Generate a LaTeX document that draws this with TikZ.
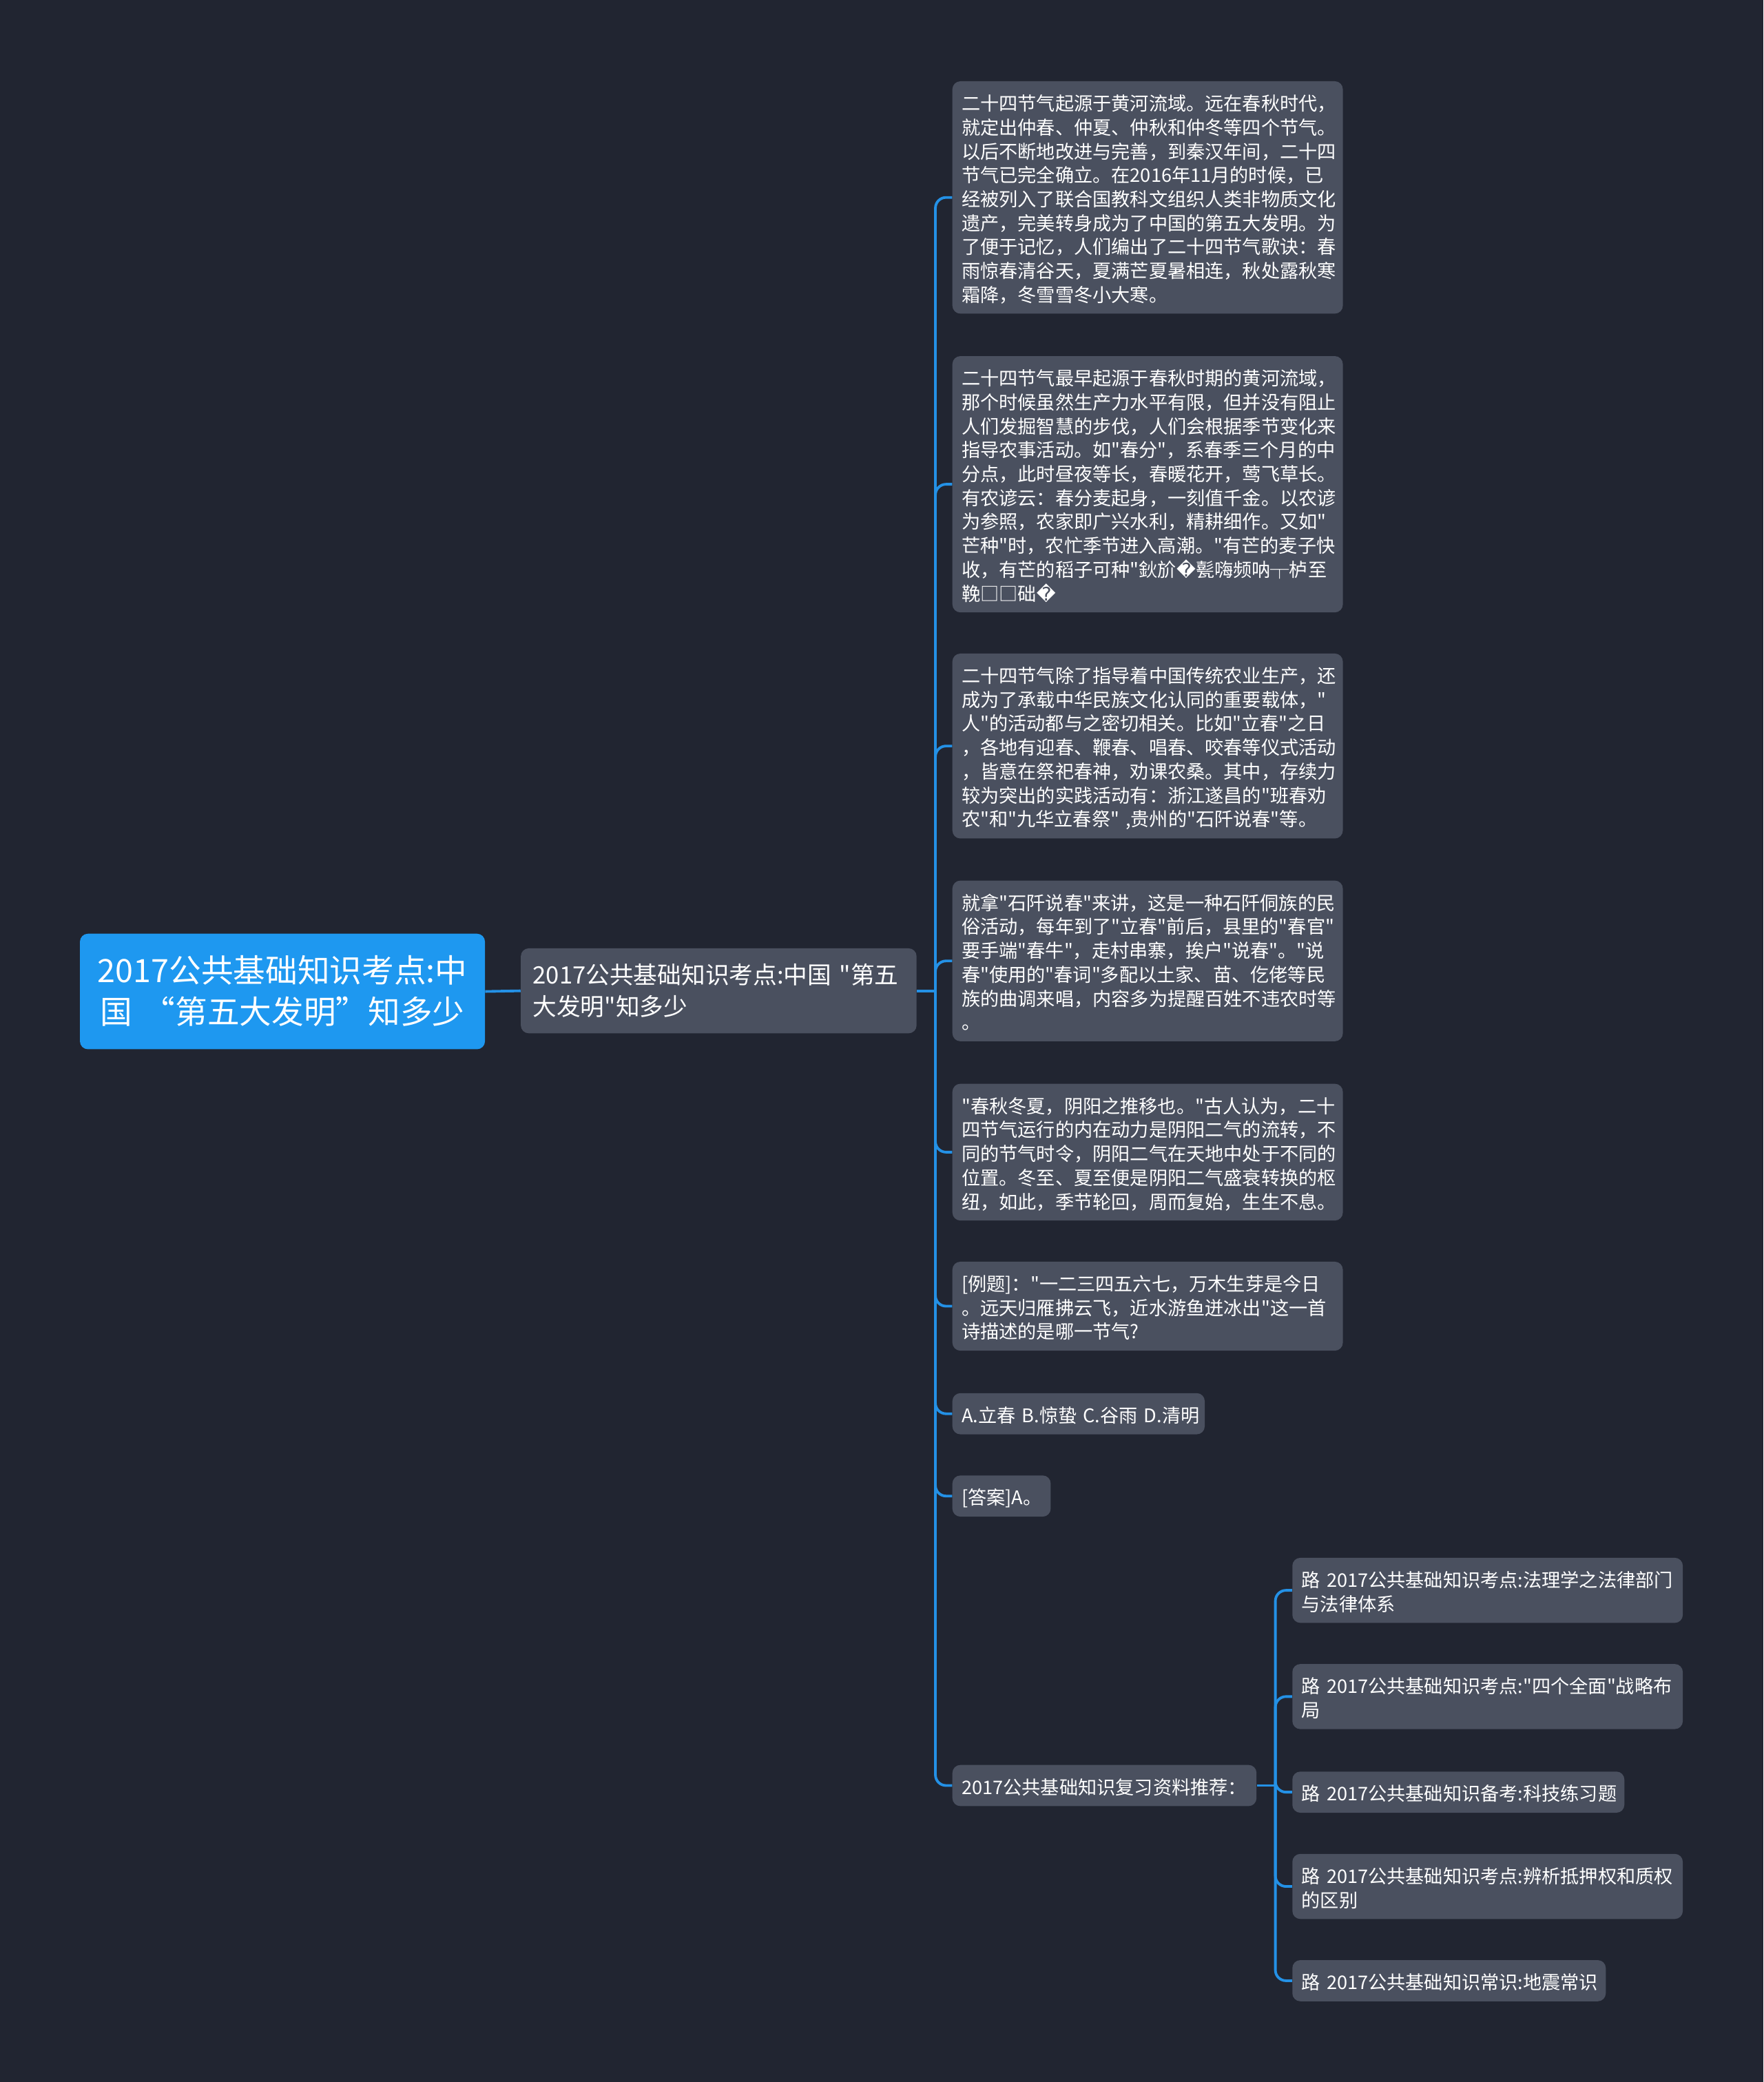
\documentclass[tikz,border=0pt]{standalone}
\usepackage{fontspec}
\setmainfont{Noto Sans CJK SC}[Ligatures=TeXOff]
\newfontfamily\dejavu{DejaVu Sans}
\newcommand{\qmark}{{\dejavu ^^^^fffd}}
\definecolor{bgcol}{RGB}{33,37,49}
\definecolor{leafcol}{RGB}{74,80,95}
\definecolor{rootcol}{RGB}{30,152,240}
\definecolor{linecol}{RGB}{36,145,230}

\begin{document}
\begin{tikzpicture}[x=1pt,y=-1pt,
    leaf/.style={rectangle,rounded corners=6pt,fill=leafcol,text=white,anchor=north west,
      align=left,inner xsep=7pt,inner ysep=6.5pt,font=\fontsize{14.1}{18}\selectfont,
      text height=15.6pt,execute at end node={\rule[-2.4pt]{0pt}{2.4pt}}},
    link/.style={draw=linecol,line width=2pt,rounded corners=8pt}]
\useasboundingbox (0,0) rectangle (1328,1568);
\fill[bgcol] (0,0) rectangle (1328,1568);

\node[rectangle,rounded corners=6pt,fill=rootcol,text=white,anchor=north west,text width=281pt,
  align=center,inner xsep=12pt,inner ysep=12.5pt,font=\fontsize{24.2}{31}\selectfont,
  text height=24.2pt,execute at end node={\rule[-6.8pt]{0pt}{6.8pt}}] (root) at (60,703)
  {2017公共基础知识考点:中\\国~“第五大发明”知多少};
\node[leaf,text width=280pt,inner xsep=9pt,inner ysep=8pt,font=\fontsize{18}{24}\selectfont,
  text height=18.8pt,execute at end node={\rule[-5.2pt]{0pt}{5.2pt}}] (main) at (392,714)
  {2017公共基础知识考点:中国~"第五\\大发明"知多少};

\node[leaf,text width=280pt] (n1) at (717,61)
  {二十四节气起源于黄河流域。远在春秋时代，\\就定出仲春、仲夏、仲秋和仲冬等四个节气。\\以后不断地改进与完善，到秦汉年间，二十四\\节气已完全确立。在2016年11月的时候，已\\经被列入了联合国教科文组织人类非物质文化\\遗产，完美转身成为了中国的第五大发明。为\\了便于记忆，人们编出了二十四节气歌诀：春\\雨惊春清谷天，夏满芒夏暑相连，秋处露秋寒\\霜降，冬雪雪冬小大寒。};
\node[leaf,text width=280pt] (n2) at (717,268)
  {二十四节气最早起源于春秋时期的黄河流域，\\那个时候虽然生产力水平有限，但并没有阻止\\人们发掘智慧的步伐，人们会根据季节变化来\\指导农事活动。如"春分"，系春季三个月的中\\分点，此时昼夜等长，春暖花开，莺飞草长。\\有农谚云：春分麦起身，一刻值千金。以农谚\\为参照，农家即广兴水利，精耕细作。又如"\\芒种"时，农忙季节进入高潮。"有芒的麦子快\\收，有芒的稻子可种"鈥斺\qmark 甏嗨频呐┬栌至\\鞔□□础\qmark};
\node[leaf,text width=280pt] (n3) at (717,492)
  {二十四节气除了指导着中国传统农业生产，还\\成为了承载中华民族文化认同的重要载体，"\\人"的活动都与之密切相关。比如"立春"之日\\，各地有迎春、鞭春、唱春、咬春等仪式活动\\，皆意在祭祀春神，劝课农桑。其中，存续力\\较为突出的实践活动有：浙江遂昌的"班春劝\\农"和"九华立春祭"~,贵州的"石阡说春"等。};
\node[leaf,text width=280pt] (n4) at (717,663)
  {就拿"石阡说春"来讲，这是一种石阡侗族的民\\俗活动，每年到了"立春"前后，县里的"春官"\\要手端"春牛"，走村串寨，挨户"说春"。"说\\春"使用的"春词"多配以土家、苗、仡佬等民\\族的曲调来唱，内容多为提醒百姓不违农时等\\。};
\node[leaf,text width=280pt] (n5) at (717,816)
  {"春秋冬夏，阴阳之推移也。"古人认为，二十\\四节气运行的内在动力是阴阳二气的流转，不\\同的节气时令，阴阳二气在天地中处于不同的\\位置。冬至、夏至便是阴阳二气盛衰转换的枢\\纽，如此，季节轮回，周而复始，生生不息。};
\node[leaf,text width=280pt] (n6) at (717,950)
  {[例题]："一二三四五六七，万木生芽是今日\\。远天归雁拂云飞，近水游鱼迸冰出"这一首\\诗描述的是哪一节气?};
\node[leaf,text width=176pt] (n7) at (717,1049) {A.立春~B.惊蛰~C.谷雨~D.清明};
\node[leaf,text width=60pt] (n8) at (717,1111) {[答案]A。};
\node[leaf,text width=215pt] (n9) at (717,1329) {2017公共基础知识复习资料推荐：};

\node[leaf,text width=280pt] (s1) at (973,1173) {路~2017公共基础知识考点:法理学之法律部门\\与法律体系};
\node[leaf,text width=280pt] (s2) at (973,1253) {路~2017公共基础知识考点:"四个全面"战略布\\局};
\node[leaf,text width=236pt] (s3) at (973,1334) {路~2017公共基础知识备考:科技练习题};
\node[leaf,text width=280pt] (s4) at (973,1396) {路~2017公共基础知识考点:辨析抵押权和质权\\的区别};
\node[leaf,text width=222pt] (s5) at (973,1476) {路~2017公共基础知识常识:地震常识};

\coordinate (hub) at ([xshift=14pt]main.east);
\coordinate (subhub) at ([xshift=14pt]n9.east);
\draw[link] (root.east) -- (main.west);
\draw[link] (main.east) -- (hub);
\foreach \i in {1,...,9}
  \draw[link] (hub) |- (n\i.west);
\draw[link] (n9.east) -- (subhub);
\foreach \i in {1,...,5}
  \draw[link] (subhub) |- (s\i.west);
\end{tikzpicture}
\end{document}
